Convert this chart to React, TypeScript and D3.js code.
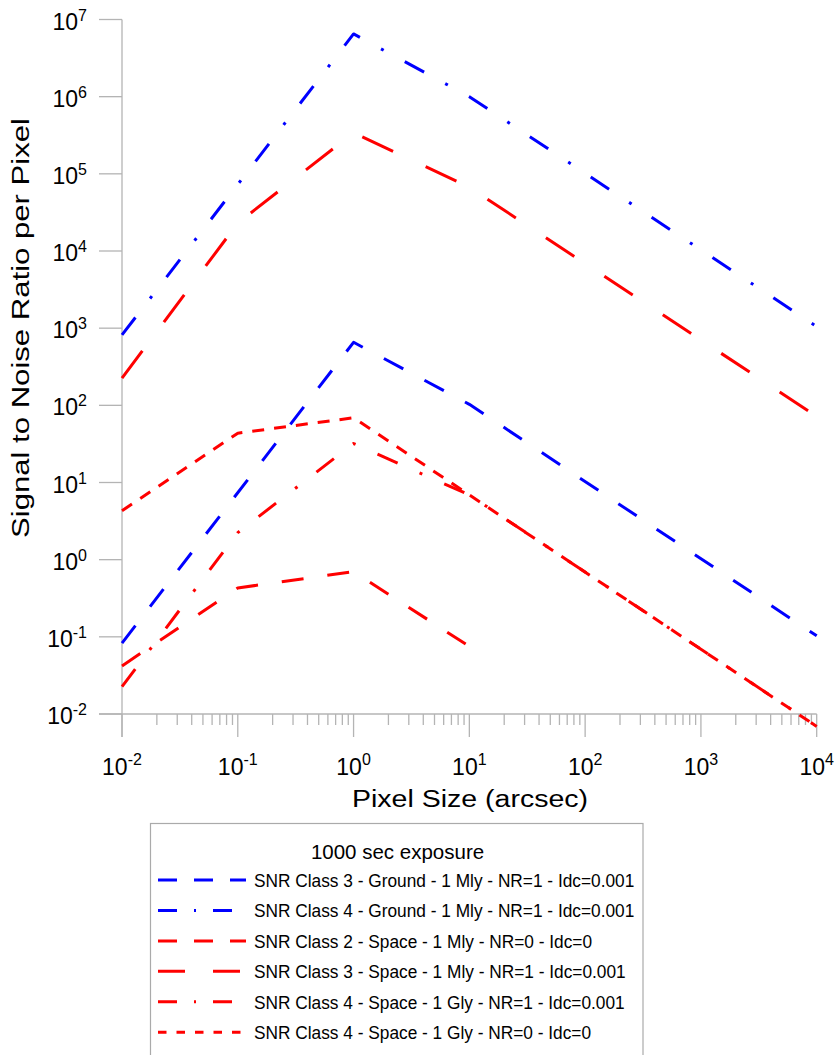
import React from "react";
import * as d3 from "d3";

const FONT = "'Liberation Sans', Arial, Helvetica, sans-serif";

// Pixel size (arcsec) vs SNR per pixel
const c3Ground: [number, number][] = [[0.01, 0.083], [1, 656], [10, 103], [1e4, 0.103]];
const c4Ground: [number, number][] = [[0.01, 817], [1, 6.5e6], [10, 1.0e6], [1e4, 1050]];
const c2Space: [number, number][] = [[0.01, 0.042], [0.1, 0.43], [1, 0.7], [10, 0.075]];
const c3Space: [number, number][] = [[0.01, 225], [0.1, 2.3e4], [1, 3.4e5], [10, 6.7e4], [1e4, 72]];
const c4SpaceGly1: [number, number][] = [[0.01, 0.0226], [0.1, 2.24], [1, 32], [10, 6.9], [1e4, 0.0069]];
const c4SpaceGly0: [number, number][] = [[0.01, 4.3], [0.1, 43.6], [1, 69], [10, 6.9], [1e4, 0.0069]];

const seriesNames = [
  "SNR Class 3 - Ground - 1 Mly - NR=1 - Idc=0.001",
  "SNR Class 4 - Ground - 1 Mly - NR=1 - Idc=0.001",
  "SNR Class 2 - Space - 1 Mly - NR=0 - Idc=0",
  "SNR Class 3 - Space - 1 Mly - NR=1 - Idc=0.001",
  "SNR Class 4 - Space - 1 Gly - NR=1 - Idc=0.001",
  "SNR Class 4 - Space - 1 Gly - NR=0 - Idc=0",
];
const seriesData = [c3Ground, c4Ground, c2Space, c3Space, c4SpaceGly1, c4SpaceGly0];
const seriesColors = ["#0000ff", "#0000ff", "#ff0000", "#ff0000", "#ff0000", "#ff0000"];
const plotDash = ["22 24", "22 24 3 24", "22 24", "34 36", "22 24 3 24", "12 10"];
const legendDash = ["19 17", "19 17 2 17", "19 17", "27 28", "19 17 2 17", "8.5 10"];

const xExponents = [-2, -1, 0, 1, 2, 3, 4];
const yExponents = [-2, -1, 0, 1, 2, 3, 4, 5, 6, 7];
const legendTitle = "1000 sec exposure";
const xTitle = "Pixel Size (arcsec)";
const yTitle = "Signal to Noise Ratio per Pixel";

export default function App() {
  const x = d3.scaleLog().domain([0.01, 1e4]).range([122, 816.7]);
  const y = d3.scaleLog().domain([0.01, 1e7]).range([714, 19.5]);
  const line = d3
    .line<[number, number]>()
    .x((d) => x(d[0]))
    .y((d) => y(d[1]));

  const minor: number[] = [];
  for (let e = -2; e < 4; e++) {
    for (let k = 2; k <= 9; k++) minor.push(k * Math.pow(10, e));
  }
  const axisColor = "#b4b4b4";
  const yBottom = 714;

  return (
    <svg
      width={835}
      height={1055}
      style={{ position: "absolute", left: 0, top: 0, background: "#fff" }}
      fontFamily={FONT}
    >
      {/* axes */}
      <g stroke={axisColor} strokeWidth={1.3}>
        <line x1={x(0.01)} x2={x(0.01)} y1={y(1e7)} y2={yBottom + 23} />
        <line x1={x(0.01) - 23} x2={x(1e4)} y1={yBottom} y2={yBottom} />
        {yExponents.map((e) => (
          <line key={"yt" + e} x1={x(0.01) - 23} x2={x(0.01)} y1={y(Math.pow(10, e))} y2={y(Math.pow(10, e))} />
        ))}
        {xExponents.map((e) => (
          <line key={"xt" + e} x1={x(Math.pow(10, e))} x2={x(Math.pow(10, e))} y1={yBottom} y2={yBottom + 23} />
        ))}
        {minor.map((v, i) => (
          <line key={"mt" + i} x1={x(v)} x2={x(v)} y1={yBottom} y2={yBottom + 11} />
        ))}
      </g>

      {/* y tick labels */}
      {yExponents.map((e) => (
        <text key={"yl" + e} x={87} y={y(Math.pow(10, e)) + 10} textAnchor="end" fontSize={23} fill="#000">
          10
          <tspan fontSize={16} dy={-9}>{e}</tspan>
        </text>
      ))}
      {/* x tick labels */}
      {xExponents.map((e) => (
        <text key={"xl" + e} x={x(Math.pow(10, e))} y={775} textAnchor="middle" fontSize={23} fill="#000">
          10
          <tspan fontSize={16} dy={-10}>{e}</tspan>
        </text>
      ))}

      {/* axis titles */}
      <text x={470} y={806.5} textAnchor="middle" fontSize={23.5} textLength={236} lengthAdjust="spacingAndGlyphs">
        {xTitle}
      </text>
      <text
        transform="translate(29,328) rotate(-90)"
        textAnchor="middle"
        fontSize={23.5}
        textLength={420}
        lengthAdjust="spacingAndGlyphs"
      >
        {yTitle}
      </text>

      {/* series */}
      {seriesData.map((d, i) => (
        <path
          key={"s" + i}
          d={line(d) || ""}
          fill="none"
          stroke={seriesColors[i]}
          strokeWidth={3}
          strokeDasharray={plotDash[i]}
          strokeLinejoin="round"
        />
      ))}

      {/* legend */}
      <rect x={150.5} y={823.5} width={492.5} height={250} fill="#fff" stroke="#aaaaaa" strokeWidth={1.2} />
      <text x={397.5} y={859} textAnchor="middle" fontSize={20.5}>
        {legendTitle}
      </text>
      {seriesNames.map((name, i) => {
        const cy = 880 + i * 30.45;
        return (
          <g key={"lg" + i}>
            <line
              x1={158}
              x2={246}
              y1={cy}
              y2={cy}
              stroke={seriesColors[i]}
              strokeWidth={3}
              strokeDasharray={legendDash[i]}
            />
            <text transform={`translate(254,${cy + 6.8}) scale(0.935,1)`} fontSize={18.5}>
              {name}
            </text>
          </g>
        );
      })}
    </svg>
  );
}
